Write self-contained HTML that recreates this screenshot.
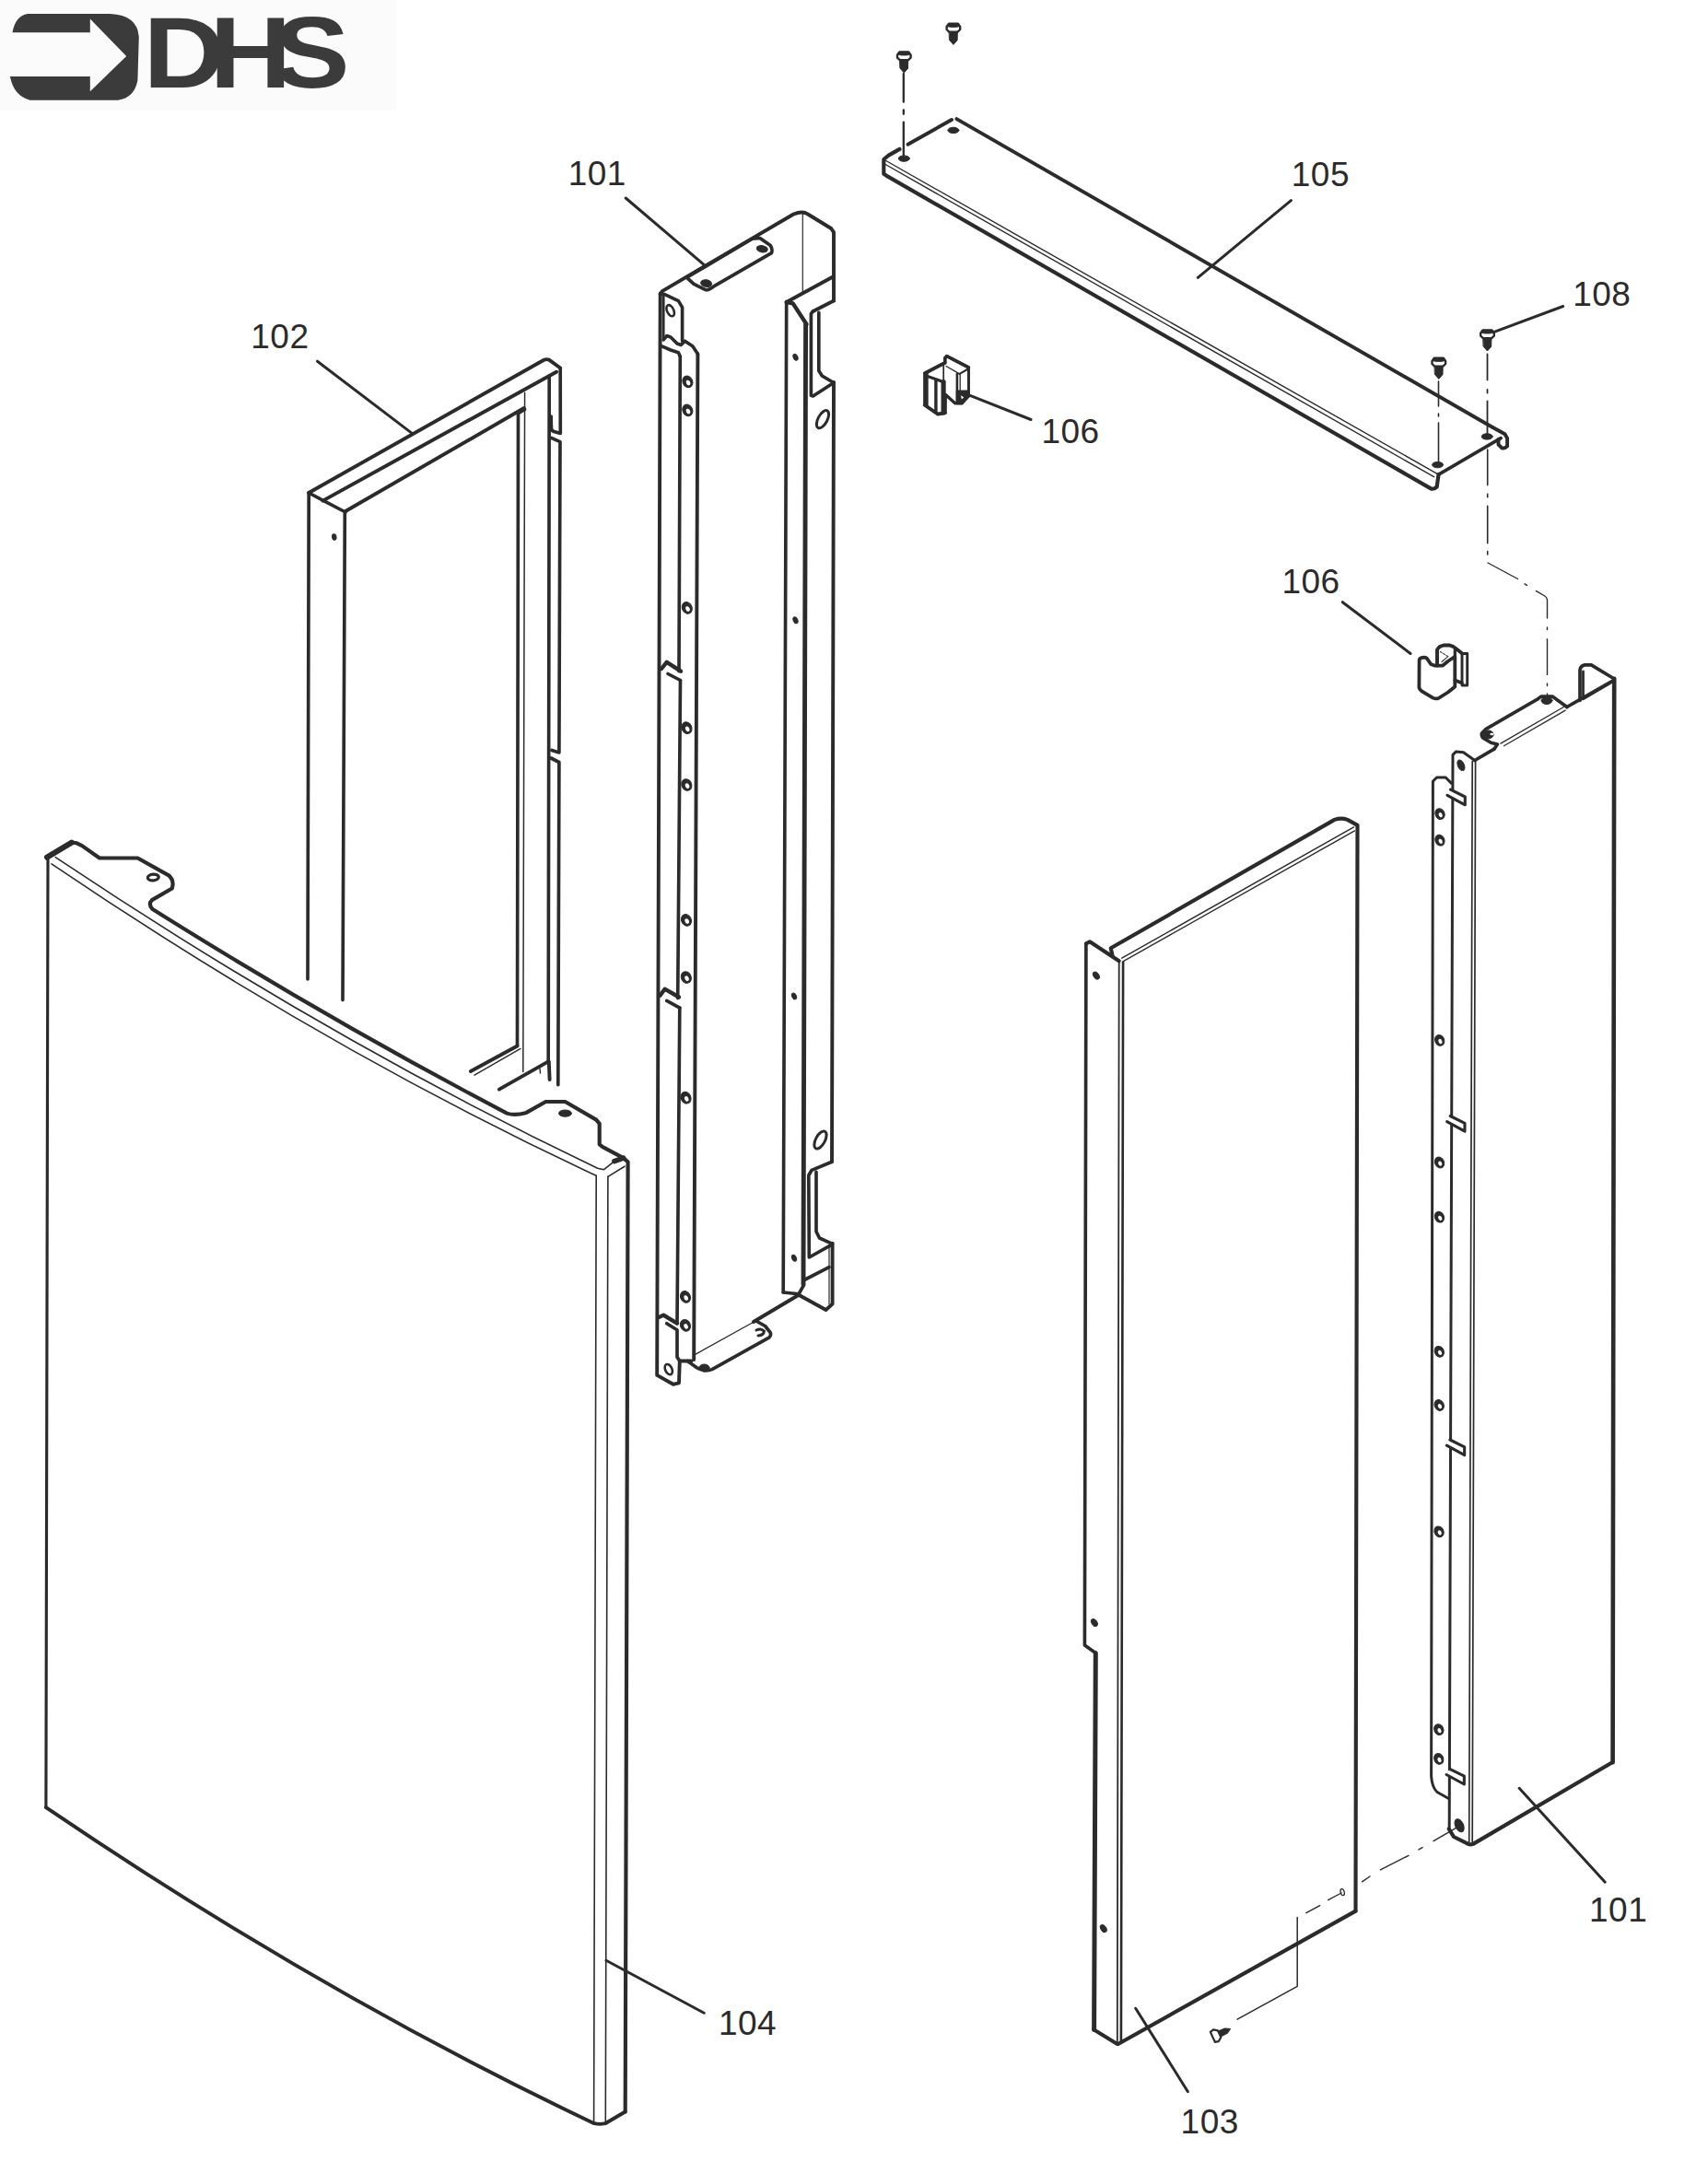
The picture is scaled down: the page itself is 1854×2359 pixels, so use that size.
<!DOCTYPE html>
<html><head><meta charset="utf-8"><title>DHS exploded diagram</title>
<style>
html,body{margin:0;padding:0;background:#fff;}
body{width:1854px;height:2359px;overflow:hidden;font-family:"Liberation Sans",sans-serif;}
svg{display:block;}
</style></head><body>
<svg width="1854" height="2359" viewBox="0 0 1854 2359">
<rect x="0" y="0" width="430" height="120" fill="#fbfbfb" stroke="none"/>
<g id="logo" fill="#3b3b3b" stroke="none">
<path d="M13.6 34.5 Q17 17 30 14.9 L119.5 14.9 Q149 16 150.8 40 L149.4 86.9 Q146 106 128 108.7 L32.6 108.7 Q15 104 10.9 82.9 L97.8 82.9 L97.8 99.2 L137.2 61.1 L97.8 20.4 L97.8 35.3 L13.6 35.3 Z"/>
<text transform="translate(155.58 94.6) scale(1.12 1)" font-family="Liberation Sans, sans-serif" font-weight="700" font-size="110.0">D</text>
<text transform="translate(227.38 94.6) scale(1.12 1)" font-family="Liberation Sans, sans-serif" font-weight="700" font-size="110.0">H</text>
<text transform="translate(297.47 94.6) scale(1.12 1)" font-family="Liberation Sans, sans-serif" font-weight="700" font-size="110.0">S</text>
</g>
<g fill="none" stroke="#2b2b2b" stroke-linecap="round" stroke-linejoin="round">
<g id="p102">
<line x1="335.2" y1="536" x2="334" y2="1063" stroke-width="3.66" />
<line x1="374.3" y1="557" x2="372" y2="1085.6" stroke-width="3.66" />
<path d="M335.1 535 L350.4 543.2 L375 556" stroke-width="3.66" />
<path d="M335.1 535 L590 391 Q593 389.5 596 390.6 L608.2 399.5" stroke-width="3.9" />
<path d="M350.4 543.6 L604 403.7" stroke-width="3.9" />
<path d="M375 555 L568.8 443" stroke-width="3.9" />
<ellipse cx="362.8" cy="583" rx="2.2" ry="3.2" transform="rotate(-10 362.8 583)" fill="#2b2b2b" stroke-width="1"/>
<path d="M608.2 399.5 L608.3 470.5 L600.5 468.2 Q597.5 466.5 598.4 463" stroke-width="3.66" />
<path d="M598.4 475.4 L608 479.6 L606.9 817 L599 814.5" stroke-width="3.66" />
<path d="M598 823 L606.9 827.5 L605.8 1177.7" stroke-width="3.66" />
<line x1="596.2" y1="408" x2="595.2" y2="1152.4" stroke-width="3.66" />
<line x1="598.2" y1="452" x2="598.4" y2="467" stroke-width="3.66" />
<line x1="569.6" y1="426.2" x2="567.8" y2="1163.6" stroke-width="1.5" />
<line x1="562.5" y1="448.7" x2="561.5" y2="1135.5" stroke-width="3.66" />
<path d="M562.5 448.7 L569.6 444.5" stroke-width="3.66" />
<path d="M561.5 1135.5 L510.9 1163" stroke-width="3.9" />
<path d="M565 1138.4 L515 1167.2" stroke-width="1.4" />
<path d="M595.2 1152.4 L541.8 1182.6" stroke-width="3.9" />
<path d="M595.8 1152.4 L596.6 1172" stroke-width="3.9" />
<path d="M586 1160 L586.5 1165" stroke-width="1.4" />
</g>
<g id="p104">
<line x1="52" y1="931.5" x2="49.9" y2="1962.2" stroke-width="3.16" />
<path d="M51.1 930.7 L77.8 914.6" stroke-width="6.1" />
<path d="M77.8 914.6 L83.4 915.3 L89 918.1 L108 931.5 L149.4 931.5 L183.2 950.4 Q189.5 956 186.7 964.5 L164.9 977.1 Q160.5 981.5 165.6 987 Q357.95 1107.8 550.3 1208.6 Q558.7 1211.5 571.3 1207.9 L592.4 1196 L613.5 1196 L647.2 1215.6 L650.7 1219.9 L650.7 1242.3 L654.2 1245.1 L676.7 1257.1 L681.6 1261.3 L678.7 2292.5" stroke-width="4.15" />
<path d="M60.2 930.7 Q354.4 1127.5 648.6 1268.3 L655.6 1269.7 L666.9 1260.6 L676.7 1257.1" stroke-width="1.6" />
<path d="M666.9 1260.6 L676.7 1257.1" stroke-width="5.49" />
<path d="M56 937.8 Q351.25 1138 646.5 1276" stroke-width="1.6" />
<line x1="647.2" y1="1276" x2="644.6" y2="2304" stroke-width="1.6" />
<line x1="659.9" y1="1277.4" x2="657.3" y2="2304" stroke-width="1.6" />
<path d="M659.9 1277.4 L678 1266.2" stroke-width="1.6" />
<path d="M49.9 1962.2 Q347.45 2164.1 645 2305.2 Q651 2306.6 657 2305.2 L678.7 2292.5" stroke-width="3.9" />
<ellipse cx="166.3" cy="952.5" rx="6" ry="3.4" transform="rotate(-5 166.3 952.5)" fill="none" stroke-width="3.2"/>
<ellipse cx="613.5" cy="1208.6" rx="7" ry="3.6" transform="rotate(0 613.5 1208.6)" fill="#2b2b2b" stroke-width="1"/>
</g>
<g id="p101a">
<path d="M716.7 318.9 L713.2 1492.9 L730.7 1502.8 L737 1501.3 L737.8 1477.5 L750.4 1477.5" stroke-width="3.9" />
<path d="M716.7 318.9 L718.8 316.1 L861.4 232.5 Q871.3 228.5 876.9 232.5 L902.2 248 L905 252.2 L905 326.6" stroke-width="3.9" />
<line x1="871.3" y1="231" x2="871.3" y2="318.2" stroke-width="1.2" />
<path d="M905 300 L853.7 328" stroke-width="3.9" />
<path d="M905 326.6 L882.5 337.9" stroke-width="3.9" />
<line x1="853.7" y1="328" x2="850.2" y2="1403" stroke-width="3.66" />
<path d="M853.7 328 L860.7 329.4 L875.5 352" stroke-width="4.39" />
<line x1="874.6" y1="352" x2="872" y2="1394.6" stroke-width="4.88" />
<path d="M882.5 337.9 L880.4 340.7 L880.4 429.2 L882.5 430 L905 415.5" stroke-width="3.66" />
<path d="M888.8 339.3 L888.8 402.5 L892.3 408 L905 415.5" stroke-width="3.66" />
<line x1="905" y1="415" x2="903" y2="1261.3" stroke-width="3.9" />
<path d="M903 1261.3 L881 1270.4 L877.8 1276 L878.3 1365 L900.8 1352.4" stroke-width="3.66" />
<path d="M886 1272.3 L886 1337 L889.5 1344 L903.6 1350.3" stroke-width="3.66" />
<path d="M903.6 1349.6 L903.6 1415.6 L896.5 1422 L867 1405.8" stroke-width="3.9" />
<line x1="900" y1="1353" x2="900" y2="1416" stroke-width="1.2" />
<path d="M874 1389 L900 1375.6" stroke-width="3.66" />
<path d="M850.2 1403 L867 1404.8 L872.5 1395" stroke-width="3.66" />
<ellipse cx="893" cy="455.2" rx="5" ry="10.5" transform="rotate(28 893 455.2)" fill="none" stroke-width="3"/>
<ellipse cx="890.5" cy="1237.5" rx="5" ry="10.5" transform="rotate(28 890.5 1237.5)" fill="none" stroke-width="3"/>
<ellipse cx="863.5" cy="387.7" rx="2.3" ry="3.6" transform="rotate(-25 863.5 387.7)" fill="#2b2b2b" stroke-width="1"/>
<ellipse cx="863.5" cy="673.2" rx="2.3" ry="3.6" transform="rotate(-25 863.5 673.2)" fill="#2b2b2b" stroke-width="1"/>
<ellipse cx="862" cy="1081.4" rx="2.3" ry="3.6" transform="rotate(-25 862 1081.4)" fill="#2b2b2b" stroke-width="1"/>
<ellipse cx="862" cy="1365.8" rx="2.3" ry="3.6" transform="rotate(-25 862 1365.8)" fill="#2b2b2b" stroke-width="1"/>
<path d="M716.7 318.9 L721.6 319.6 L736.4 326.6 L740.6 333.6 L740.6 370.2" stroke-width="3.66" />
<line x1="720.2" y1="320" x2="720.2" y2="368.8" stroke-width="2.76" />
<ellipse cx="727.7" cy="337.2" rx="3.6" ry="6.5" transform="rotate(-25 727.7 337.2)" fill="none" stroke-width="2.6"/>
<path d="M720.2 368.8 L723.7 364.6 L728 366 L735 373 L739.2 374.4 L743.4 370.2 L751.8 375.8 L757.4 384.2" stroke-width="3.66" />
<path d="M718.5 375.8 L728 380 L736.4 382.8 L738.3 387" stroke-width="3.66" />
<line x1="738.3" y1="387" x2="737" y2="728.7" stroke-width="3.66" />
<line x1="757.4" y1="384.2" x2="753.2" y2="1476" stroke-width="3.9" />
<path d="M718 726 L723.7 718.9 L739 728.7" stroke-width="4.39" />
<path d="M725 731.5 L738.5 738.5" stroke-width="3.66" />
<line x1="738.5" y1="738.5" x2="735.7" y2="1083.6" stroke-width="3.66" />
<path d="M716.5 1080.7 L721.6 1073.7 L737 1082.5" stroke-width="4.39" />
<path d="M723.7 1086.4 L737.8 1094.1" stroke-width="3.66" />
<line x1="737.8" y1="1094.1" x2="735" y2="1436.7" stroke-width="3.66" />
<path d="M714.5 1430.4 L720.2 1427.6 L735 1436.7" stroke-width="4.39" />
<path d="M723.7 1436.7 L735 1443.7 L735 1473.2 L737.8 1477.5" stroke-width="3.66" />
<ellipse cx="746.39904" cy="414.4" rx="5.34" ry="6.50" transform="rotate(-25 746.39904 414.4)" fill="#2b2b2b" stroke-width="1"/>
<ellipse cx="747.10" cy="415.50" rx="2.09" ry="2.90" transform="rotate(-25 747.10 415.50)" fill="#fff" stroke="none"/>
<ellipse cx="746.3246399999999" cy="445.4" rx="5.34" ry="6.50" transform="rotate(-25 746.3246399999999 445.4)" fill="#2b2b2b" stroke-width="1"/>
<ellipse cx="747.02" cy="446.50" rx="2.09" ry="2.90" transform="rotate(-25 747.02 446.50)" fill="#fff" stroke="none"/>
<ellipse cx="745.80984" cy="659.9" rx="5.34" ry="6.50" transform="rotate(-25 745.80984 659.9)" fill="#2b2b2b" stroke-width="1"/>
<ellipse cx="746.51" cy="661.00" rx="2.09" ry="2.90" transform="rotate(-25 746.51 661.00)" fill="#fff" stroke="none"/>
<ellipse cx="745.49712" cy="790.2" rx="5.34" ry="6.50" transform="rotate(-25 745.49712 790.2)" fill="#2b2b2b" stroke-width="1"/>
<ellipse cx="746.20" cy="791.30" rx="2.09" ry="2.90" transform="rotate(-25 746.20 791.30)" fill="#fff" stroke="none"/>
<ellipse cx="745.3488" cy="852" rx="5.34" ry="6.50" transform="rotate(-25 745.3488 852)" fill="#2b2b2b" stroke-width="1"/>
<ellipse cx="746.05" cy="853.10" rx="2.09" ry="2.90" transform="rotate(-25 746.05 853.10)" fill="#fff" stroke="none"/>
<ellipse cx="744.99624" cy="998.9" rx="5.34" ry="6.50" transform="rotate(-25 744.99624 998.9)" fill="#2b2b2b" stroke-width="1"/>
<ellipse cx="745.70" cy="1000.00" rx="2.09" ry="2.90" transform="rotate(-25 745.70 1000.00)" fill="#fff" stroke="none"/>
<ellipse cx="744.8471999999999" cy="1061" rx="5.34" ry="6.50" transform="rotate(-25 744.8471999999999 1061)" fill="#2b2b2b" stroke-width="1"/>
<ellipse cx="745.55" cy="1062.10" rx="2.09" ry="2.90" transform="rotate(-25 745.55 1062.10)" fill="#fff" stroke="none"/>
<ellipse cx="744.53352" cy="1191.7" rx="5.34" ry="6.50" transform="rotate(-25 744.53352 1191.7)" fill="#2b2b2b" stroke-width="1"/>
<ellipse cx="745.23" cy="1192.80" rx="2.09" ry="2.90" transform="rotate(-25 745.23 1192.80)" fill="#fff" stroke="none"/>
<ellipse cx="744.01464" cy="1407.9" rx="5.34" ry="6.50" transform="rotate(-25 744.01464 1407.9)" fill="#2b2b2b" stroke-width="1"/>
<ellipse cx="744.71" cy="1409.00" rx="2.09" ry="2.90" transform="rotate(-25 744.71 1409.00)" fill="#fff" stroke="none"/>
<ellipse cx="743.94048" cy="1438.8" rx="5.34" ry="6.50" transform="rotate(-25 743.94048 1438.8)" fill="#2b2b2b" stroke-width="1"/>
<ellipse cx="744.64" cy="1439.90" rx="2.09" ry="2.90" transform="rotate(-25 744.64 1439.90)" fill="#fff" stroke="none"/>
<ellipse cx="725.8" cy="1486.6" rx="3.6" ry="6" transform="rotate(-25 725.8 1486.6)" fill="none" stroke-width="2.6"/>
<path d="M745.5 301.3 L816.5 259.2 L824.9 258.5 L836 266.2 Q839 270 837.5 274.6 L774.3 311.2 Q769 315 765.9 314.7 L753.2 308.4 Z" stroke-width="3.66" />
<ellipse cx="827.3" cy="270.2" rx="6" ry="3.6" transform="rotate(10 827.3 270.2)" fill="#2b2b2b" stroke-width="1"/>
<ellipse cx="766.6" cy="307.6" rx="6" ry="3.8" transform="rotate(10 766.6 307.6)" fill="#2b2b2b" stroke-width="1"/>
<path d="M817.9 1435 L867 1405.8" stroke-width="3.9" />
<path d="M754.6 1470.4 L817.9 1435.3" stroke-width="1.3" />
<path d="M746.2 1477.5 L756 1484.5 Q764.5 1490 772.9 1486.6 L834.7 1452.2 Q837.5 1449.5 836.1 1446.5 L830.5 1439.5 L821.5 1434.5" stroke-width="3.66" />
<ellipse cx="764.5" cy="1484.8" rx="5.5" ry="3.8" transform="rotate(0 764.5 1484.8)" fill="#2b2b2b" stroke-width="1"/>
<path d="M821 1444 Q826 1441.5 829.5 1445 Q829 1449.5 823 1450" stroke-width="2.99" />
</g>
<g id="p105">
<path d="M1038.4 129.1 L1617.7 462.5 L1633.5 471.3 L1636.1 475.7 L1636.1 484.4 Q1633 487.5 1630 486.2 L1626.5 482.7 L1626.5 477" stroke-width="3.9" />
<path d="M1033 130 L985.5 156.8" stroke-width="3.9" />
<path d="M976.5 161.9 L964.6 168.6 L959.3 173 L959.3 188.8 L962 190.6 L1552.7 530.1 Q1556 532 1559.7 528.4 L1561.5 515.2" stroke-width="4.15" />
<path d="M960 173.5 L1561.5 515.2" stroke-width="1.4" />
<path d="M960.3 178 L1556.5 517.6" stroke-width="1.4" />
<path d="M1561.5 515.2 L1629.1 475.7" stroke-width="3.66" />
<ellipse cx="981.3" cy="172.1" rx="6" ry="3.2" transform="rotate(0 981.3 172.1)" fill="#2b2b2b" stroke-width="1"/>
<ellipse cx="1034.9" cy="141.4" rx="6" ry="3.2" transform="rotate(0 1034.9 141.4)" fill="#2b2b2b" stroke-width="1"/>
<ellipse cx="1614.2" cy="473.9" rx="6" ry="3.2" transform="rotate(0 1614.2 473.9)" fill="#2b2b2b" stroke-width="1"/>
<ellipse cx="1560.6" cy="504.6" rx="6" ry="3.2" transform="rotate(0 1560.6 504.6)" fill="#2b2b2b" stroke-width="1"/>
</g>
<g id="screws">
<path d="M974.0 59.6 L976.3 56.4 L986.3 56.4 L988.5999999999999 59.6 L988.5999999999999 62.6 L985.9 65.2 L976.6999999999999 65.2 L974.0 62.6 Z" fill="#fff" stroke-width="2.4"/>
<path d="M976.3 56.4 L986.3 56.4 L988.0999999999999 59.2 L984.3 60.0 L978.3 60.0 L974.5 59.2 Z" fill="#2b2b2b" stroke-width="0.8"/>
<path d="M976.9 65.2 L985.6999999999999 65.2 L985.5 74.2 L981.3 79.0 L977.0999999999999 74.2 Z" fill="#2b2b2b" stroke-width="1"/>
<path d="M1027.6000000000001 29 L1029.9 25.8 L1039.9 25.8 L1042.2 29 L1042.2 32 L1039.5 34.6 L1030.3000000000002 34.6 L1027.6000000000001 32 Z" fill="#fff" stroke-width="2.4"/>
<path d="M1029.9 25.8 L1039.9 25.8 L1041.7 28.6 L1037.9 29.4 L1031.9 29.4 L1028.1000000000001 28.6 Z" fill="#2b2b2b" stroke-width="0.8"/>
<path d="M1030.5 34.6 L1039.3000000000002 34.6 L1039.1000000000001 43.6 L1034.9 48.4 L1030.7 43.6 Z" fill="#2b2b2b" stroke-width="1"/>
<path d="M1554.5 392 L1556.8 388.8 L1566.8 388.8 L1569.1 392 L1569.1 395 L1566.3999999999999 397.6 L1557.2 397.6 L1554.5 395 Z" fill="#fff" stroke-width="2.4"/>
<path d="M1556.8 388.8 L1566.8 388.8 L1568.6 391.6 L1564.8 392.4 L1558.8 392.4 L1555.0 391.6 Z" fill="#2b2b2b" stroke-width="0.8"/>
<path d="M1557.3999999999999 397.6 L1566.2 397.6 L1566.0 406.6 L1561.8 411.4 L1557.6 406.6 Z" fill="#2b2b2b" stroke-width="1"/>
<path d="M1607.2 361.6 L1609.5 358.40000000000003 L1619.5 358.40000000000003 L1621.8 361.6 L1621.8 364.6 L1619.1 367.20000000000005 L1609.9 367.20000000000005 L1607.2 364.6 Z" fill="#fff" stroke-width="2.4"/>
<path d="M1609.5 358.40000000000003 L1619.5 358.40000000000003 L1621.3 361.20000000000005 L1617.5 362.0 L1611.5 362.0 L1607.7 361.20000000000005 Z" fill="#2b2b2b" stroke-width="0.8"/>
<path d="M1610.1 367.20000000000005 L1618.9 367.20000000000005 L1618.7 376.20000000000005 L1614.5 381.0 L1610.3 376.20000000000005 Z" fill="#2b2b2b" stroke-width="1"/>
</g>
<g id="dashes">
<path d="M980.8 80 L980.8 110.7 M980.8 119.4 L980.8 123.8 M980.8 132.6 L980.8 168.6" stroke-width="2.3" />
<path d="M1561.5 414 L1561.5 441 M1561.5 449 L1561.5 452 M1561.5 459 L1561.5 502" stroke-width="1.6" />
<path d="M1614.5 384.3 L1614.5 412.4 M1614.5 423 L1614.5 426.5 M1614.5 435.3 L1614.5 471.3" stroke-width="1.8" />
<path d="M1614.7 488 L1614.7 526.6 M1614.7 536.3 L1614.7 539.8 M1614.7 549.4 L1614.7 589.8 M1614.7 598.6 L1614.7 602" stroke-width="1.6" />
<path d="M1615 611 L1647.6 628.5 M1655 633.9 L1657.5 635.3 M1667.5 641.6 L1676 646.5 Q1679.5 648.5 1679.5 652 L1679.5 671 M1679.5 681 L1679.5 683.5 M1679.5 693.8 L1679.5 732.4 M1679.5 742 L1679.5 744.5 M1679.5 753 L1679.5 760" stroke-width="1.4" />
</g>
<g id="p106a">
<path d="M1003.6 405 L1025.8 393.5 L1025.8 388.6 L1027.7 386.5 L1051.4 398.9 L1051.4 430.3 L1044.3 437.8 L1036.8 437.8 L1026.5 428.5 L1026.3 448 L1018.1 449.5 L1003.6 439.6 Z" stroke-width="2.92" fill="#fff"/>
<path d="M1005.7 405.5 L1005.7 440.5" stroke-width="3.96" />
<path d="M1004 405.2 L1025.6 394" stroke-width="3.78" />
<path d="M1024.1 414.5 L1024.1 448" stroke-width="5.16" />
<path d="M1015.9 412.5 L1015.9 446" stroke-width="3.44" />
<path d="M1007.5 408.8 L1023 414.2" stroke-width="3.1" />
<path d="M1003.8 439.8 L1018.1 449.6 L1026 448.2" stroke-width="3.78" />
<path d="M1025.8 393.5 L1025.8 388.8 L1027.7 386.6 L1051.4 398.9" stroke-width="3.61" />
<path d="M1024.2 394 L1024.2 415" stroke-width="1.72" />
<path d="M1027 397.5 L1041.5 405.9" stroke-width="1.38" />
<path d="M1041.5 405.9 L1051 400.5" stroke-width="2.06" />
<path d="M1038.9 405.9 L1038.9 437" stroke-width="2.58" />
<path d="M1042.2 406.5 L1042.2 436" stroke-width="1.29" />
<path d="M1051.4 398.9 L1051.4 430.3" stroke-width="2.41" />
<path d="M1038.5 424.2 L1051.6 424.2 L1051.6 430.5 L1044.6 438.4 L1038.5 438.4 Z" fill="#2b2b2b" stroke-width="1.5"/>
<path d="M1042.9 429.3 L1046.2 431.2 L1043.9 433.5 Z" fill="#fff" stroke="none"/>
<path d="M1026.5 428.5 L1036.8 437.8 L1044.3 437.8" stroke-width="3.1" />
</g>
<g id="p106b">
<path d="M1540.6 716.8 L1540.4 746 Q1540.5 748.6 1543.7 750.6 L1555.4 757.6 Q1558.5 759 1561.5 758 L1571.8 751.5 L1579.3 745.5 L1579.3 712.8 L1571.8 717.8 L1565.7 722.7 L1557.8 722.7 L1553.1 721 L1549.8 716 Q1548.5 713.6 1545.6 713.6 Q1540.6 714 1540.6 716.8 Z" stroke-width="3.78" fill="#fff"/>
<path d="M1560 722.5 L1560 705.5 Q1562 701.2 1567 700.6 L1573.2 700.4 Q1577 701 1581.2 704.7 L1586.4 708.8" stroke-width="3.96" />
<path d="M1579.3 706 L1579.3 714" stroke-width="3.27" />
<path d="M1563.4 707.5 L1571.8 712.6" stroke-width="1.03" stroke-dasharray="2.2 1.6"/>
<path d="M1571.8 712.6 L1565 718.5" stroke-width="1.03" />
<path d="M1587 709.5 L1592.7 709.5 L1592.7 744 L1587 744 Z" stroke-width="2.92" fill="#fff"/>
<path d="M1579.3 738.5 L1587 741.5" stroke-width="3.61" />
</g>
<g id="p103">
<path d="M1178.9 1024.3 L1177.4 1786 L1189.3 1794.5" stroke-width="3.66" />
<path d="M1189.3 1794.5 L1187.6 2203.5" stroke-width="5.0" />
<path d="M1187.6 2203.5 L1212.8 2219" stroke-width="3.9" />
<path d="M1178.9 1024.3 L1182.9 1022.3 L1214.7 1043.2" stroke-width="4.15" />
<path d="M1207.5 1037.5 L1205.8 1029.3 L1448.6 889.9 Q1456 887.5 1462.6 889.9 L1473.5 895.9 L1471.5 2074.6" stroke-width="4.15" />
<path d="M1217.7 1040.2 L1469.5 897.9" stroke-width="1.4" />
<path d="M1219.7 1043.4 L1470.5 901.9" stroke-width="1.4" />
<line x1="1214.7" y1="1044.2" x2="1212.8" y2="2217" stroke-width="1.8" />
<line x1="1219.1" y1="1044.2" x2="1216.9" y2="2216" stroke-width="2.64" />
<path d="M1213.7 2219 L1471.5 2074.6" stroke-width="4.15" />
<ellipse cx="1189.9" cy="1059.1" rx="2.8" ry="4.4" transform="rotate(-35 1189.9 1059.1)" fill="#2b2b2b" stroke-width="1"/>
<ellipse cx="1187.9" cy="1761.5" rx="2.8" ry="4.4" transform="rotate(-35 1187.9 1761.5)" fill="#2b2b2b" stroke-width="1"/>
<ellipse cx="1197.8" cy="2093.6" rx="2.8" ry="4.4" transform="rotate(-35 1197.8 2093.6)" fill="#2b2b2b" stroke-width="1"/>
<ellipse cx="1457.2" cy="2054.1" rx="2" ry="3.6" transform="rotate(-15 1457.2 2054.1)" fill="none" stroke-width="1.3"/>
</g>
<g id="p101b">
<line x1="1752.2" y1="736.8" x2="1750.6" y2="1913.2" stroke-width="4.64" />
<path d="M1715 760.5 L1715 727.1 Q1716 722.5 1720.2 721.9 L1727.3 721.9 L1751.9 736.8" stroke-width="3.66" />
<path d="M1718.5 728.9 L1718.5 758.8 L1748.3 741.2" stroke-width="2.76" />
<path d="M1600.8 825.5 L1621.9 813.2" stroke-width="3.66" />
<path d="M1700.9 767.5 L1750.1 739.4" stroke-width="3.66" />
<path d="M1628.9 807.1 L1697.4 767.5" stroke-width="1.3" />
<path d="M1632.4 809.7 L1699.2 771.1" stroke-width="1.3" />
<path d="M1621.9 813.2 L1625.4 808 L1618.4 806.2 L1609.6 800.9 Q1607.5 798 1608.7 795.7 L1613.1 791.3 L1669.3 758.8 L1672.8 756.1 L1685.1 756.1 L1700.9 767.5" stroke-width="3.66" />
<ellipse cx="1615.7" cy="797.4" rx="5.5" ry="4.5" transform="rotate(0 1615.7 797.4)" fill="#2b2b2b" stroke-width="1"/>
<ellipse cx="1619.5" cy="797" rx="2.2" ry="1.2" transform="rotate(0 1619.5 797)" fill="#fff" stroke-width="0"/>
<ellipse cx="1679" cy="760.5" rx="6" ry="4" transform="rotate(0 1679 760.5)" fill="#2b2b2b" stroke-width="1"/>
<line x1="1598.2" y1="826.4" x2="1594.7" y2="2001" stroke-width="1.7" />
<line x1="1601.6" y1="826.4" x2="1598.2" y2="2001" stroke-width="1.7" />
<path d="M1750.1 1913.2 L1599 2001.9 Q1596 2003 1593.8 2001.9 L1578 1994 L1572.7 1985.3" stroke-width="4.15" />
<path d="M1573.2 1985.3 L1577 819.4 L1580.6 815.9 L1588.5 816.7 L1600.8 825.5" stroke-width="2.99" />
<ellipse cx="1585.9" cy="830.8" rx="3.4" ry="6.2" transform="rotate(-25 1585.9 830.8)" fill="#2b2b2b" stroke-width="1"/>
<ellipse cx="1584.1" cy="1981.7" rx="4.4" ry="7.5" transform="rotate(-25 1584.1 1981.7)" fill="#2b2b2b" stroke-width="1"/>
<path d="M1575.3 850.1 L1569.2 844 L1559.5 844 L1555.4 848.3 L1553.6 1928 Q1554.3 1940 1560 1945.5 L1572.5 1952.5" stroke-width="2.99" />
<ellipse cx="1563.00048" cy="883.6" rx="4.97" ry="6.05" transform="rotate(-25 1563.00048 883.6)" fill="#2b2b2b" stroke-width="1"/>
<ellipse cx="1563.70" cy="884.70" rx="1.94" ry="2.70" transform="rotate(-25 1563.70 884.70)" fill="#fff" stroke="none"/>
<ellipse cx="1562.96616" cy="912.2" rx="4.97" ry="6.05" transform="rotate(-25 1562.96616 912.2)" fill="#2b2b2b" stroke-width="1"/>
<ellipse cx="1563.67" cy="913.30" rx="1.94" ry="2.70" transform="rotate(-25 1563.67 913.30)" fill="#fff" stroke="none"/>
<ellipse cx="1562.70552" cy="1129.4" rx="4.97" ry="6.05" transform="rotate(-25 1562.70552 1129.4)" fill="#2b2b2b" stroke-width="1"/>
<ellipse cx="1563.41" cy="1130.50" rx="1.94" ry="2.70" transform="rotate(-25 1563.41 1130.50)" fill="#fff" stroke="none"/>
<ellipse cx="1562.5464" cy="1262" rx="4.97" ry="6.05" transform="rotate(-25 1562.5464 1262)" fill="#2b2b2b" stroke-width="1"/>
<ellipse cx="1563.25" cy="1263.10" rx="1.94" ry="2.70" transform="rotate(-25 1563.25 1263.10)" fill="#fff" stroke="none"/>
<ellipse cx="1562.47536" cy="1321.2" rx="4.97" ry="6.05" transform="rotate(-25 1562.47536 1321.2)" fill="#2b2b2b" stroke-width="1"/>
<ellipse cx="1563.18" cy="1322.30" rx="1.94" ry="2.70" transform="rotate(-25 1563.18 1322.30)" fill="#fff" stroke="none"/>
<ellipse cx="1562.30004" cy="1467.3" rx="4.97" ry="6.05" transform="rotate(-25 1562.30004 1467.3)" fill="#2b2b2b" stroke-width="1"/>
<ellipse cx="1563.00" cy="1468.40" rx="1.94" ry="2.70" transform="rotate(-25 1563.00 1468.40)" fill="#fff" stroke="none"/>
<ellipse cx="1562.2302" cy="1525.5" rx="4.97" ry="6.05" transform="rotate(-25 1562.2302 1525.5)" fill="#2b2b2b" stroke-width="1"/>
<ellipse cx="1562.93" cy="1526.60" rx="1.94" ry="2.70" transform="rotate(-25 1562.93 1526.60)" fill="#fff" stroke="none"/>
<ellipse cx="1562.06544" cy="1662.8" rx="4.97" ry="6.05" transform="rotate(-25 1562.06544 1662.8)" fill="#2b2b2b" stroke-width="1"/>
<ellipse cx="1562.77" cy="1663.90" rx="1.94" ry="2.70" transform="rotate(-25 1562.77 1663.90)" fill="#fff" stroke="none"/>
<ellipse cx="1561.80768" cy="1877.6" rx="4.97" ry="6.05" transform="rotate(-25 1561.80768 1877.6)" fill="#2b2b2b" stroke-width="1"/>
<ellipse cx="1562.51" cy="1878.70" rx="1.94" ry="2.70" transform="rotate(-25 1562.51 1878.70)" fill="#fff" stroke="none"/>
<ellipse cx="1561.76952" cy="1909.4" rx="4.97" ry="6.05" transform="rotate(-25 1561.76952 1909.4)" fill="#2b2b2b" stroke-width="1"/>
<ellipse cx="1562.47" cy="1910.50" rx="1.94" ry="2.70" transform="rotate(-25 1562.47 1910.50)" fill="#fff" stroke="none"/>
<path d="M1574.49991 857.1 L1590.29991 865.0 L1590.29991 873.8000000000001 L1570.99991 863.3000000000001" stroke-width="3.1" fill="#fff"/>
<path d="M1574.18095 1211.5 L1589.98095 1219.4 L1589.98095 1228.2 L1570.68095 1217.7" stroke-width="3.1" fill="#fff"/>
<path d="M1573.8646 1563 L1589.6646 1570.9 L1589.6646 1579.7 L1570.3646 1569.2" stroke-width="3.1" fill="#fff"/>
<path d="M1573.54303 1920.3 L1589.34303 1928.2 L1589.34303 1937.0 L1570.04303 1926.5" stroke-width="3.1" fill="#fff"/>
</g>
<g id="dash2">
<path d="M1580.6 1984.4 L1556 1998.6 M1544 2005.6 L1540 2007.9 M1529 2014.3 L1498.4 2029.9" stroke-width="1.4" />
<path d="M1487 2037 L1478.5 2042.8 M1456 2055 L1441.7 2062.7 M1432.7 2068.7 L1417.8 2076.6" stroke-width="1.4" />
<path d="M1408.2 2081.6 L1408.2 2156.3 L1343.1 2192.1" stroke-width="1.5" />
<g transform="translate(1324.5 2207.6) rotate(-114.6)">
<path d="M-6 -9 L6 -9 L7 -5 L4 -1 L-4 -1 L-7 -5 Z" fill="#fff" stroke-width="2.2"/>
<path d="M-3.4 -1 L3.4 -1 L3 7 L0 12 L-3 7 Z" fill="#2b2b2b" stroke-width="1"/>
</g>
</g>
<g id="leaders">
<line x1="679.2" y1="215" x2="766.2" y2="289.1" stroke-width="2.99" />
<line x1="344.5" y1="392.2" x2="447.5" y2="470.6" stroke-width="2.99" />
<line x1="1401.4" y1="217.6" x2="1300.3" y2="301.3" stroke-width="2.99" />
<line x1="1696.7" y1="332.5" x2="1621.2" y2="360.6" stroke-width="2.99" />
<line x1="1051.7" y1="428.8" x2="1119.1" y2="455.5" stroke-width="2.99" />
<line x1="1649.1" y1="1941.3" x2="1742.2" y2="2043.2" stroke-width="2.99" />
<line x1="1232.7" y1="2180.2" x2="1289.4" y2="2270.7" stroke-width="2.99" />
<line x1="658" y1="2128.2" x2="764.2" y2="2185.3" stroke-width="2.99" />
<line x1="1457.3" y1="653.7" x2="1531" y2="709.5" stroke-width="2.99" />
</g>
<g id="labels" fill="#2b2b2b" stroke="none" font-family="Liberation Sans, sans-serif" font-size="37" letter-spacing="0.5">
<text x="616.7" y="200.9">101</text>
<text x="272.3" y="378">102</text>
<text x="1401.8" y="201.5">105</text>
<text x="1707.2" y="331.6">108</text>
<text x="1130.4" y="480.8">106</text>
<text x="1391.4" y="644.4">106</text>
<text x="779.9" y="2209">104</text>
<text x="1725" y="2086">101</text>
<text x="1281.6" y="2315.5">103</text>
</g>
</g>
</svg>
</body></html>
